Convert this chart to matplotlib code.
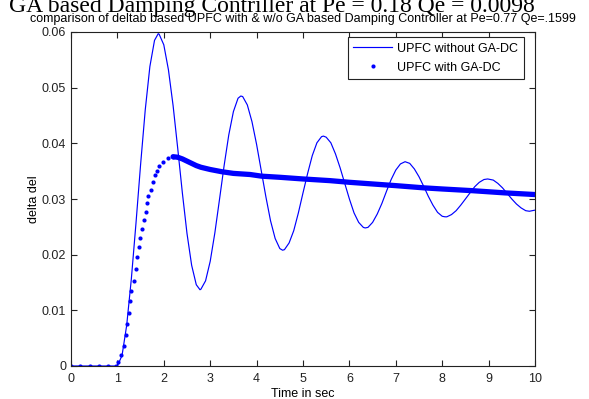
import matplotlib
matplotlib.use("Agg")
import matplotlib.pyplot as plt

# ---- data ----
t_without = [0.0, 0.2, 0.4, 0.6, 0.8, 1.0, 1.1, 1.2, 1.3, 1.4, 1.5, 1.6, 1.7, 1.8, 1.88,
             1.9, 2.0, 2.1, 2.2, 2.3, 2.4, 2.5, 2.6, 2.7, 2.78,
             2.8, 2.9, 3.0, 3.1, 3.2, 3.3, 3.4, 3.5, 3.6, 3.66,
             3.7, 3.8, 3.9, 4.0, 4.1, 4.2, 4.3, 4.4, 4.5, 4.56,
             4.6, 4.7, 4.8, 4.9, 5.0, 5.1, 5.2, 5.3, 5.4, 5.44,
             5.5, 5.6, 5.7, 5.8, 5.9, 6.0, 6.1, 6.2, 6.3, 6.34,
             6.4, 6.5, 6.6, 6.7, 6.8, 6.9, 7.0, 7.1, 7.2,
             7.3, 7.4, 7.5, 7.6, 7.7, 7.8, 7.9, 8.0, 8.06,
             8.1, 8.2, 8.3, 8.4, 8.5, 8.6, 8.7, 8.8, 8.9, 8.98,
             9.1, 9.2, 9.3, 9.4, 9.5, 9.6, 9.7, 9.8, 9.88, 10.0]
v_without = [0.0, 0.0, 0.0, 0.0, 0.0, 0.0, 0.0019, 0.0073, 0.0156, 0.0256, 0.0362, 0.0460, 0.0538, 0.0585, 0.0597,
             0.0596, 0.0577, 0.0532, 0.0468, 0.0391, 0.0311, 0.0238, 0.0181, 0.0146, 0.0137,
             0.0138, 0.0153, 0.0188, 0.0239, 0.0299, 0.0360, 0.0415, 0.0457, 0.0481, 0.0485,
             0.0484, 0.0469, 0.0439, 0.0398, 0.0351, 0.0304, 0.0261, 0.0229, 0.0211, 0.0208,
             0.0209, 0.0221, 0.0243, 0.0275, 0.0311, 0.0346, 0.0378, 0.0401, 0.0412, 0.0413,
             0.0411, 0.0401, 0.0381, 0.0356, 0.0328, 0.0300, 0.0275, 0.0258, 0.0249, 0.0248,
             0.0249, 0.0258, 0.0273, 0.0292, 0.0314, 0.0335, 0.0352, 0.0363, 0.0367,
             0.0364, 0.0354, 0.0340, 0.0323, 0.0305, 0.0289, 0.0276, 0.0269, 0.0268,
             0.0268, 0.0272, 0.0279, 0.0289, 0.0300, 0.0311, 0.0322, 0.0330, 0.0335, 0.0336,
             0.0334, 0.0328, 0.0320, 0.0310, 0.0300, 0.0291, 0.0284, 0.0279, 0.0278, 0.0280]

# sparse simulation steps of the GA-DC response (individual dots)
t_with_dots = [0.0, 0.2, 0.4, 0.6, 0.8, 0.98, 1.02, 1.07, 1.14, 1.19, 1.21, 1.24, 1.27, 1.30,
               1.36, 1.41, 1.43, 1.47, 1.49, 1.53, 1.57, 1.61, 1.64, 1.67, 1.72, 1.76,
               1.81, 1.86, 1.90, 1.99, 2.10, 2.20]
v_with_dots = [0.0, 0.0, 0.0, 0.0, 0.0, 0.0, 0.0008, 0.0019, 0.0036, 0.0056, 0.0075, 0.0096, 0.0116, 0.0134,
               0.0153, 0.0174, 0.0195, 0.0214, 0.0230, 0.0247, 0.0262, 0.0277, 0.0293, 0.0306, 0.0316, 0.0331,
               0.0343, 0.0351, 0.0359, 0.0367, 0.0373, 0.0376]
# dense simulation steps (dots merge into a thick band)
t_with_band = [2.20, 2.3, 2.4, 2.5, 2.6, 2.7, 2.8, 3.0, 3.25, 3.5, 3.86, 4.11, 4.5, 5.0, 5.58,
               6.0, 6.5, 7.0, 7.61, 8.0, 8.64, 9.35, 10.0]
v_with_band = [0.0376, 0.0375, 0.0372, 0.0368, 0.0364, 0.0360, 0.0357, 0.0353, 0.0349, 0.0346, 0.0344,
               0.0341, 0.0339, 0.0336, 0.0333, 0.0330, 0.0327, 0.0324, 0.0320, 0.0318, 0.0315, 0.0311, 0.0308]

x_ticks = [0, 1, 2, 3, 4, 5, 6, 7, 8, 9, 10]
y_ticks = [0.0, 0.01, 0.02, 0.03, 0.04, 0.05, 0.06]
y_tick_labels = ['0', '0.01', '0.02', '0.03', '0.04', '0.05', '0.06']

label_without = 'UPFC without GA-DC'
label_with = 'UPFC with GA-DC'
title_text = 'comparison of deltab based UPFC with & w/o GA based Damping Controller at Pe=0.77 Qe=.1599'
top_text = 'GA based Damping Contriller at Pe = 0.18 Qe = 0.0098'

# ---- drawing ----
plt.rcParams['font.family'] = ['Liberation Sans', 'DejaVu Sans']
W, H = 589, 399
fig = plt.figure(figsize=(W / 100, H / 100), dpi=100)
ax = fig.add_axes([71 / W, (H - 366) / H, 464 / W, 334 / H])

blue = '#0000ff'
ax.plot(t_without, v_without, color=blue, lw=0.85, label=label_without)
ax.plot(t_with_band, v_with_band, color=blue, lw=3.8, solid_capstyle='round')
ax.plot(t_with_dots, v_with_dots, linestyle='none', marker='o', ms=3.0, mew=0,
        color=blue, label=label_with)

ax.set_xlim(0, 10)
ax.set_ylim(0, 0.06)
ax.set_xticks(x_ticks)
ax.set_xticklabels([str(v) for v in x_ticks])
ax.set_yticks(y_ticks)
ax.set_yticklabels(y_tick_labels)
ax.tick_params(direction='in', length=4, width=0.8, top=True, right=True,
               labelsize=9, colors='#222222')
ax.tick_params(axis='x', pad=5)
ax.tick_params(axis='y', pad=3.5)
for s in ax.spines.values():
    s.set_linewidth(0.8)
    s.set_color('#222222')

ax.set_xlabel('Time in sec', fontsize=9, labelpad=2)
ax.set_ylabel('delta del', fontsize=9, labelpad=1)
ax.set_title(title_text, fontsize=9, pad=7)

leg = ax.legend(loc='upper right', bbox_to_anchor=(0.976, 0.985), fontsize=9,
                fancybox=False, framealpha=1, edgecolor='#222222',
                handlelength=3.1, handletextpad=0.4, labelspacing=0.55,
                borderpad=0.45, borderaxespad=0)
leg.get_frame().set_linewidth(0.8)

# headline that is partly cut off at the top edge, as in the reference
fig.text(9 / W, (H - 12) / H, top_text, fontsize=17, family='Liberation Serif',
         ha='left', va='baseline')

fig.savefig('out.png', dpi=100)
